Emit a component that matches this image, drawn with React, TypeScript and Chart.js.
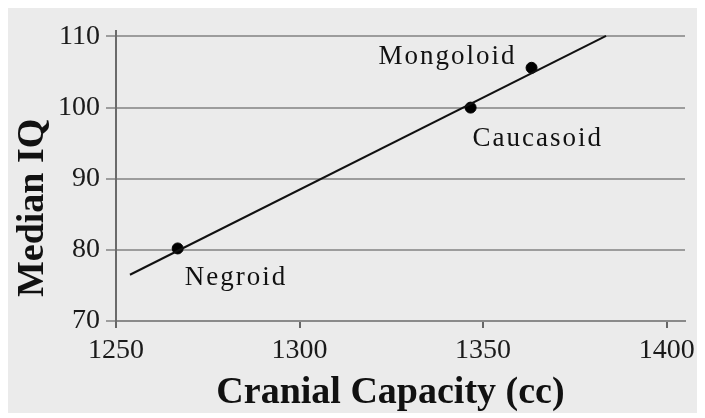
import React, { useEffect, useRef } from "react";
import { Chart, registerables } from "chart.js";

Chart.register(...registerables);

const groups = ["Negroid", "Caucasoid", "Mongoloid"];
const cranialCapacity = [1266.8, 1346.6, 1363.2];
const medianIQ = [80.2, 100, 105.6];
const fitLineX = [1253.8, 1383.5];
const fitLineY = [76.5, 110.1];
const xTickValues = [1250, 1300, 1350, 1400];
const yTickValues = [70, 80, 90, 100, 110];
const xTitle = "Cranial Capacity (cc)";
const yTitle = "Median IQ";

const SERIF = "'Liberation Serif', 'Times New Roman', serif";

const labelPlugin = {
  id: "pointLabels",
  afterDatasetsDraw(chart: any) {
    const { ctx, scales } = chart;
    const style: Record<string, { dx: number; dy: number; align: CanvasTextAlign }> = {
      Negroid: { dx: 7, dy: 37, align: "left" },
      Caucasoid: { dx: 2, dy: 38, align: "left" },
      Mongoloid: { dx: -15, dy: -4, align: "right" },
    };
    ctx.save();
    ctx.font = `27px ${SERIF}`;
    ctx.fillStyle = "#111";
    ctx.textBaseline = "alphabetic";
    (ctx as any).letterSpacing = "2px";
    groups.forEach((g, i) => {
      const px = scales.x.getPixelForValue(cranialCapacity[i]);
      const py = scales.y.getPixelForValue(medianIQ[i]);
      const s = style[g];
      ctx.textAlign = s.align;
      ctx.fillText(g, px + s.dx, py + s.dy);
    });
    (ctx as any).letterSpacing = "0px";
    ctx.restore();
  },
};

const titlePlugin = {
  id: "axisTitles",
  afterDraw(chart: any) {
    const { ctx, chartArea } = chart;
    ctx.save();
    ctx.fillStyle = "#111";
    ctx.font = `bold 38px ${SERIF}`;
    ctx.textAlign = "center";
    ctx.textBaseline = "middle";
    ctx.fillText(xTitle, (chartArea.left + chartArea.right) / 2 - 10, chartArea.bottom + 72);
    ctx.translate(chartArea.left - 83, (chartArea.top + chartArea.bottom) / 2 + 32);
    ctx.rotate(-Math.PI / 2);
    ctx.fillText(yTitle, 0, 0);
    ctx.restore();
  },
};

export default function App() {
  const ref = useRef<HTMLCanvasElement>(null);
  useEffect(() => {
    if (!ref.current) return;
    const chart = new Chart(ref.current, {
      type: "scatter",
      data: {
        datasets: [
          {
            type: "line",
            label: "fit",
            data: fitLineX.map((x, i) => ({ x, y: fitLineY[i] })),
            borderColor: "#111",
            borderWidth: 2,
            pointRadius: 0,
            fill: false,
          } as any,
          {
            label: "groups",
            data: cranialCapacity.map((x, i) => ({ x, y: medianIQ[i] })),
            backgroundColor: "#000",
            borderColor: "#000",
            pointRadius: 5.5,
          },
        ],
      },
      options: {
        animation: false,
        responsive: false,
        layout: { padding: { top: 20, right: 20, left: 0, bottom: 0 } },
        plugins: { legend: { display: false }, tooltip: { enabled: false } },
        scales: {
          x: {
            type: "linear",
            min: 1250,
            max: 1405,
            afterFit(scale: any) {
              scale.height = 92;
            },
            afterBuildTicks(scale: any) {
              scale.ticks = xTickValues.map((v) => ({ value: v }));
            },
            grid: {
              drawOnChartArea: false,
              drawTicks: true,
              tickLength: 7,
              color: "#666",
              lineWidth: 2,
            },
            border: { display: true, color: "#8a8a8a", width: 2 },
            ticks: {
              font: { family: SERIF, size: 28 },
              color: "#1a1a1a",
              padding: 6,
              maxRotation: 0,
              callback: (v: any) => String(v),
            },
          },
          y: {
            type: "linear",
            min: 70,
            max: 110.8,
            afterFit(scale: any) {
              scale.width = 108;
            },
            afterBuildTicks(scale: any) {
              scale.ticks = yTickValues.map((v) => ({ value: v }));
            },
            grid: {
              drawOnChartArea: true,
              drawTicks: true,
              tickLength: 10,
              color: "#9c9c9c",
              lineWidth: 2,
            },
            border: { display: true, color: "#6a6a6a", width: 2 },
            ticks: {
              font: { family: SERIF, size: 28 },
              color: "#1a1a1a",
              padding: 6,
              callback: (v: any) => String(v),
            },
          },
        },
      },
      plugins: [labelPlugin, titlePlugin],
    });
    return () => chart.destroy();
  }, []);
  return (
    <div style={{ width: 697, height: 405, background: "#ebebeb" }}>
      <canvas ref={ref} width={697} height={405} style={{ display: "block" }} />
    </div>
  );
}
